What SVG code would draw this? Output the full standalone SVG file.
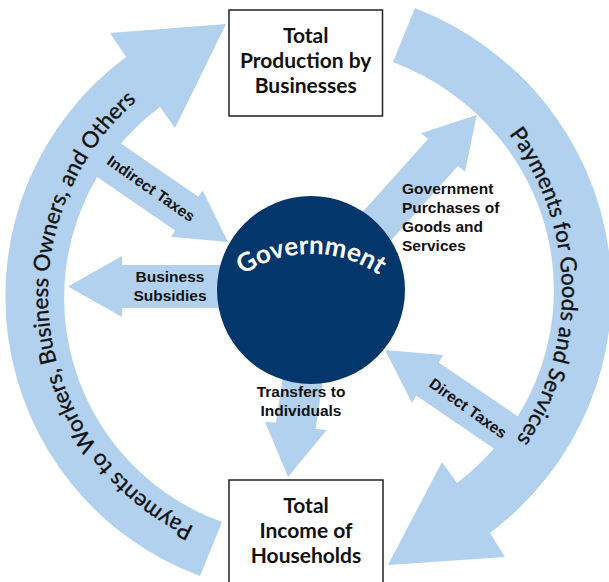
<svg xmlns="http://www.w3.org/2000/svg" width="609" height="582" viewBox="0 0 609 582">
<style>
.flow{fill:#b1d1ee;stroke:none}
.lbl{font-family:"Liberation Sans",Arial,sans-serif;font-weight:bold;font-size:15.5px;fill:#111}
.arc{font-family:Lato,"Open Sans","Liberation Sans",sans-serif;font-size:22.3px;fill:#111;stroke:#111;stroke-width:0.35}
.box{fill:#fff;stroke:#222;stroke-width:1.5}
.btxt{font-family:Lato,"Open Sans","Liberation Sans",sans-serif;font-weight:bold;font-size:21px;fill:#111;text-anchor:middle}
.gtxt{font-family:Lato,"Open Sans","Liberation Sans",sans-serif;font-weight:bold;font-size:26px;fill:#fff}
</style>
<defs>
<path id="pLeft" d="M 305 552 A 257 257 0 0 1 251.6 43.6"/>
<path id="pRight" d="M 331.9 32 A 262 262 0 0 1 358.9 547.3"/>
<path id="pGov" d="M 198.2 333 A 120 120 0 0 1 423.8 333"/>
</defs>
<rect width="609" height="582" fill="#fff"/>
<g id="connectors">
<path id="flow-payments-workers" class="flow" d="M 200 576 A 298 298 0 0 1 126 57 L 110 33 L 226 24 L 175 128 L 160 107 A 238 238 0 0 0 222 522 Z"/>
<path id="flow-payments-goods" class="flow" d="M 415 8 A 312 305 0 0 1 490 533 L 505 557 L 388 565 L 442 462 L 457 483 A 253 245 0 0 0 393 62 Z"/>
<polygon id="flow-indirect-taxes" class="flow" points="110,136 198.4,196.7 202.7,190.5 228,242 170.9,236.7 175.2,230.5 84.6,168.5"/>
<polygon id="flow-business-subsidies" class="flow" points="240,265 122,265 122,256 68,286.5 122,317 122,308 240,308"/>
<polygon id="flow-gov-purchases" class="flow" points="341.3,235.8 428.1,139.1 421,133.3 476.7,115 465,171.7 457.9,165.9 371.1,262.6"/>
<polygon id="flow-direct-taxes" class="flow" points="533.8,427.2 438.8,362.5 443,355 385,350 412,403 416.2,395.5 511.2,460.2"/>
<polygon id="flow-transfers" class="flow" points="288,343.8 276,422.8 265,421.7 288,477 326.7,430 315.6,428.8 327.6,349.8"/>
<text class="arc"><textPath href="#pLeft" startOffset="49%" text-anchor="middle">Payments to Workers, Business Owners, and Others</textPath></text>
<text class="arc"><textPath href="#pRight" startOffset="51%" text-anchor="middle">Payments for Goods and Services</textPath></text>
<text class="lbl" text-anchor="middle" transform="translate(148,193) rotate(35)">Indirect Taxes</text>
<text class="lbl" text-anchor="middle" transform="translate(465,412.5) rotate(35.5)">Direct Taxes</text>
<text class="lbl" text-anchor="middle"><tspan x="170" y="281.5">Business</tspan><tspan x="170" y="300.5">Subsidies</tspan></text>
<text class="lbl"><tspan x="402" y="194">Government</tspan><tspan x="402" y="213">Purchases of</tspan><tspan x="402" y="232">Goods and</tspan><tspan x="402" y="251">Services</tspan></text>
<text class="lbl" text-anchor="middle"><tspan x="301" y="397">Transfers to</tspan><tspan x="301" y="416">Individuals</tspan></text>
</g>
<g id="node-government">
<circle cx="311" cy="290" r="94" fill="#03366a"/>
<text class="gtxt"><textPath href="#pGov" startOffset="50%" text-anchor="middle">Government</textPath></text>
</g>
<g id="node-production">
<rect class="box" x="229" y="10" width="153.5" height="106"/>
<text class="btxt"><tspan x="305.7" y="43">Total</tspan><tspan x="305.7" y="68">Production by</tspan><tspan x="305.7" y="93">Businesses</tspan></text>
</g>
<g id="node-income">
<rect class="box" x="229" y="480" width="154" height="115"/>
<text class="btxt"><tspan x="306" y="513">Total</tspan><tspan x="306" y="538">Income of</tspan><tspan x="306" y="563">Households</tspan></text>
</g>
</svg>
